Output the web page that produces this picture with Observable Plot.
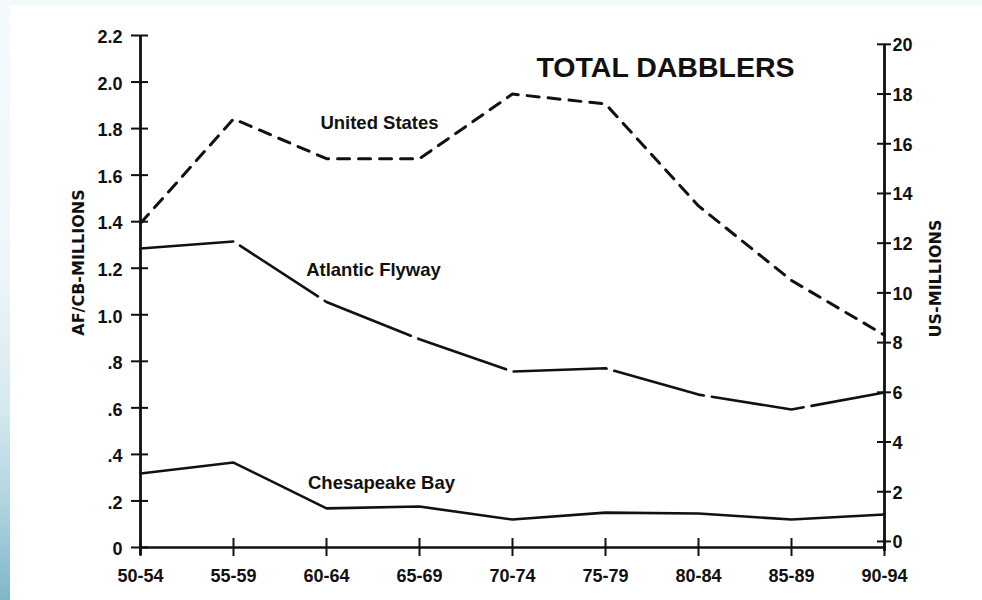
<!DOCTYPE html>
<html>
<head>
<meta charset="utf-8">
<script src="https://cdn.jsdelivr.net/npm/d3@7"></script>
<script src="https://cdn.jsdelivr.net/npm/@observablehq/plot@0.6"></script>
<style>
  html, body { margin: 0; padding: 0; background: #fff; }
  #page { position: relative; width: 982px; height: 600px; overflow: hidden; background: #fff; }
  #edgeTop { position: absolute; left: 0; top: 0; width: 982px; height: 5px; background: #f2f9fb; }
  #edgeLeft { position: absolute; left: 0; top: 0; width: 10px; height: 600px;
    background: linear-gradient(to bottom, #f4fafc 0%, #eef6f9 45%, #d6e9ef 68%, #aed2dd 85%, #7fb7c8 100%); }
  #chart { position: absolute; left: 0; top: 0; }
  #chart svg { overflow: visible; }
</style>
</head>
<body>
<div id="page">
  <div id="edgeTop"></div>
  <div id="edgeLeft"></div>
  <div id="chart"></div>
</div>
<script>
// ---- data ----
const periods = ["50-54", "55-59", "60-64", "65-69", "70-74", "75-79", "80-84", "85-89", "90-94"];
// United States, millions (right axis)
const usMillions = [12.8, 17.0, 15.4, 15.4, 18.0, 17.6, 13.5, 10.5, 8.3];
// Atlantic Flyway, millions (left axis)
const atlanticFlyway = [1.285, 1.315, 1.055, 0.895, 0.756, 0.77, 0.657, 0.593, 0.666];
// Chesapeake Bay, millions (left axis)
const chesapeakeBay = [0.318, 0.365, 0.168, 0.176, 0.12, 0.15, 0.146, 0.12, 0.142];

const leftTicks = [0, 0.2, 0.4, 0.6, 0.8, 1.0, 1.2, 1.4, 1.6, 1.8, 2.0, 2.2];
const leftTickLabels = ["0", ".2", ".4", ".6", ".8", "1.0", "1.2", "1.4", "1.6", "1.8", "2.0", "2.2"];
const rightTicks = [0, 2, 4, 6, 8, 10, 12, 14, 16, 18, 20];
const rightTickLabels = ["0", "2", "4", "6", "8", "10", "12", "14", "16", "18", "20"];

const title = "TOTAL DABBLERS";
const leftAxisTitle = "AF/CB-MILLIONS";
const rightAxisTitle = "US-MILLIONS";
const seriesNames = ["United States", "Atlantic Flyway", "Chesapeake Bay"];
// where each series name sits: category it is placed from, and value on the left axis
const seriesLabelAt = ["60-64", "60-64", "60-64"];
const seriesLabelValue = [1.822, 1.19, 0.275];
const seriesLabelShift = [53, 47, 55];

// right (US) axis as drawn in the original sits on a slightly different grid than the left one
const usZero = 0.026, usPerUnit = 0.1068;
const usToLeft = (r) => usZero + r * usPerUnit;

const first = periods[0], last = periods[periods.length - 1];
const usRows = periods.map((p, i) => ({period: p, v: usToLeft(usMillions[i])}));
const afRows = periods.map((p, i) => ({period: p, v: atlanticFlyway[i]}));
const cbRows = periods.map((p, i) => ({period: p, v: chesapeakeBay[i]}));
const leftRows = leftTicks.map((t, i) => ({v: t, label: leftTickLabels[i]}));
const rightRows = rightTicks.map((t, i) => ({v: usToLeft(t), label: rightTickLabels[i]}));

const tickFont = "Liberation Sans, Arial, sans-serif";
const titleFont = "DejaVu Sans, sans-serif";
const ink = "#111";

const labelMarks = seriesNames.map((name, i) =>
  Plot.text([{text: name, at: seriesLabelAt[i], v: seriesLabelValue[i]}], {
    x: "at", y: "v", text: "text", dx: seriesLabelShift[i], textAnchor: "middle",
    fontSize: 18.5, fontWeight: "bold", fontFamily: tickFont, fill: ink
  })
);

const chart = Plot.plot({
  width: 982,
  height: 600,
  marginLeft: 137,
  marginRight: 96,
  marginTop: 35,
  marginBottom: 53,
  style: {background: "transparent", color: ink, fontFamily: tickFont},
  x: {type: "point", domain: periods, padding: 0, axis: null},
  y: {domain: [0, 2.2], axis: null},
  marks: [
    // left axis line and cross ticks
    Plot.ruleX([first], {x: d => d, y1: 2.2, y2: 0, insetBottom: -8, stroke: ink, strokeWidth: 2.8}),
    Plot.ruleY(leftTicks, {y: d => d, x1: () => first, x2: () => first, insetLeft: -9, insetRight: -8, stroke: ink, strokeWidth: 2}),
    // right axis line and cross ticks
    Plot.ruleX([last], {x: d => d, y1: usToLeft(20), y2: 0, insetBottom: -4, stroke: ink, strokeWidth: 2.8}),
    Plot.ruleY(rightTicks, {y: d => usToLeft(d), x1: () => last, x2: () => last, insetLeft: -7, insetRight: -7, stroke: ink, strokeWidth: 2}),
    // x axis line and cross ticks
    Plot.ruleY([0], {y: d => d, x1: () => first, x2: () => last, stroke: ink, strokeWidth: 2.4}),
    Plot.ruleX(periods, {x: d => d, y1: 0, y2: 0, insetTop: -9, insetBottom: -9, stroke: ink, strokeWidth: 2}),
    // tick labels
    Plot.text(leftRows, {x: () => first, y: "v", text: "label", dx: -18, dy: 2, textAnchor: "end",
      fontSize: 18, fontWeight: "bold", fontFamily: tickFont, fill: ink}),
    Plot.text(rightRows, {x: () => last, y: "v", text: "label", dx: 8, dy: 1, textAnchor: "start",
      fontSize: 18, fontWeight: "bold", fontFamily: tickFont, fill: ink}),
    Plot.text(periods, {x: d => d, y: () => 0, text: d => d, dy: 29, textAnchor: "middle",
      fontSize: 18, fontWeight: "bold", fontFamily: tickFont, fill: ink}),
    // axis titles
    Plot.text([leftAxisTitle], {text: d => d, frameAnchor: "left", textAnchor: "middle", rotate: -90, dx: -59, dy: -29,
      fontSize: 16, fontWeight: "bold", fontFamily: titleFont, fill: ink}),
    Plot.text([rightAxisTitle], {text: d => d, frameAnchor: "right", textAnchor: "middle", rotate: -90, dx: 49, dy: -13,
      fontSize: 16, fontWeight: "bold", fontFamily: titleFont, fill: ink}),
    // series
    Plot.line(cbRows, {x: "period", y: "v", stroke: ink, strokeWidth: 2.6}),
    Plot.line(afRows, {x: "period", y: "v", stroke: ink, strokeWidth: 2.6, strokeDasharray: "93,8"}),
    Plot.line(usRows, {x: "period", y: "v", stroke: ink, strokeWidth: 3, strokeDasharray: "12,9"}),
    // series labels
    ...labelMarks,
    // title
    Plot.text([title], {text: d => d, x: () => "75-79", y: () => 2.063, dx: 60, textAnchor: "middle",
      fontSize: 28.5, fontWeight: "bold", fontFamily: tickFont, fill: ink})
  ]
});
document.getElementById("chart").appendChild(chart);
</script>
</body>
</html>
